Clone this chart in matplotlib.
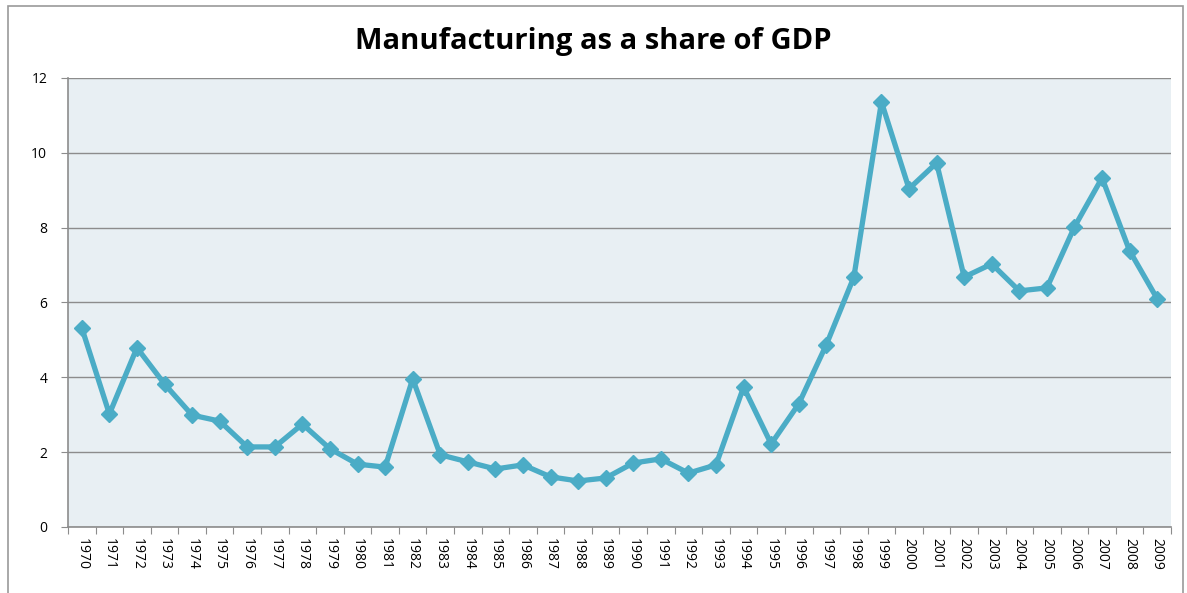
import matplotlib.pyplot as plt
import matplotlib.patches as mpatches
import numpy as np

# colours
BG_PLOT = '#E8EFF3'
LINE_COLOR = '#4BACC6'
GRID_COLOR = '#8C8C8C'
TEXT_COLOR = '#000000'

years = [str(y) for y in range(1970, 2010)]
share = [5.32, 3.02, 4.79, 3.82, 2.99, 2.83, 2.14, 2.14, 2.75, 2.09,
         1.68, 1.60, 3.96, 1.93, 1.74, 1.55, 1.66, 1.34, 1.23, 1.31,
         1.71, 1.82, 1.44, 1.66, 3.74, 2.22, 3.29, 4.87, 6.68, 11.36,
         9.04, 9.73, 6.68, 7.03, 6.31, 6.39, 8.02, 9.33, 7.38, 6.10]
y_ticks = [0, 2, 4, 6, 8, 10, 12]

plt.rcParams['font.family'] = ['Open Sans', 'DejaVu Sans']

fig = plt.figure(figsize=(11.87, 5.93), dpi=100)
ax = fig.add_axes([0.0573, 0.1113, 0.9292, 0.7572])
ax.set_facecolor(BG_PLOT)

# outer chart border
fig.patches.append(mpatches.Rectangle((0.007, -0.01), 0.99, 1.0, transform=fig.transFigure,
                                      fill=False, edgecolor='#9a9a9a', linewidth=1.2))

x = np.arange(len(years))
ax.plot(x, share, color=LINE_COLOR, linewidth=3.8, marker='D', markersize=8,
        markerfacecolor=LINE_COLOR, markeredgecolor=LINE_COLOR, zorder=3)

ax.set_ylim(0, 12)
ax.set_yticks(y_ticks)
ax.set_yticklabels([str(v) for v in y_ticks], fontsize=10)
ax.yaxis.grid(True, color=GRID_COLOR, linewidth=1.0)
ax.set_axisbelow(True)

ax.set_xlim(-0.5, len(years) - 0.5)
ax.set_xticks(np.arange(-0.5, len(years), 1.0))
ax.set_xticklabels([])
ax.set_xticks(x, minor=True)
ax.set_xticklabels(years, minor=True, rotation=-90, fontsize=10)
ax.tick_params(axis='x', which='major', length=5, color=GRID_COLOR, direction='out')
ax.tick_params(axis='x', which='minor', length=0, pad=8)
ax.tick_params(axis='y', length=5, color=GRID_COLOR, pad=10)

for side in ['top', 'right']:
    ax.spines[side].set_visible(False)
for side in ['left', 'bottom']:
    ax.spines[side].set_color(GRID_COLOR)
    ax.spines[side].set_linewidth(1.2)

fig.text(0.5, 0.93, 'Manufacturing as a share of GDP', ha='center', va='center',
         fontsize=21, fontweight='bold', color=TEXT_COLOR)

plt.savefig('out.png', dpi=100)
